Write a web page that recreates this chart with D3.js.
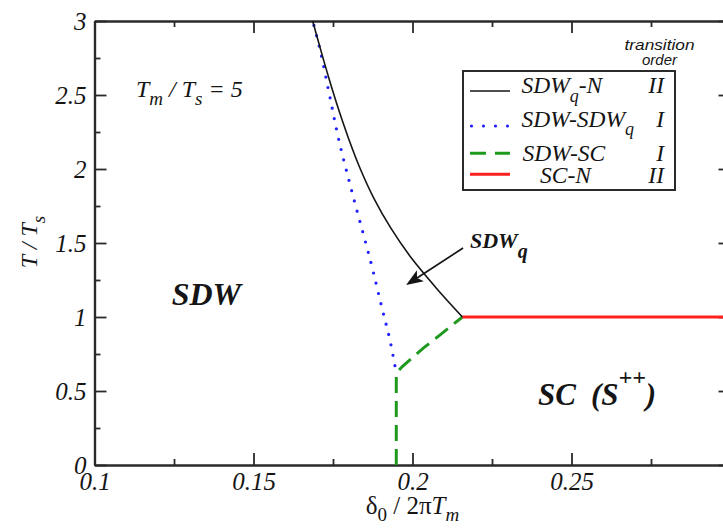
<!DOCTYPE html>
<html>
<head>
<meta charset="utf-8">
<script src="https://cdn.jsdelivr.net/npm/d3@7"></script>
<style>
  html, body { margin: 0; padding: 0; background: #fff; }
  svg { display: block; }
  text { font-family: "Liberation Serif", "Times New Roman", serif; fill: #151515; }
</style>
</head>
<body>
<svg id="chart" width="723" height="528"></svg>
<script>
// Phase diagram T/Ts versus delta0/(2 pi Tm) for Tm/Ts = 5.

// SDW_q - N boundary (second order)
const sdwqN_delta = [0.1686, 0.1712, 0.1739, 0.1768, 0.1800, 0.1836, 0.1879, 0.1932, 0.1996, 0.2073, 0.2157];
const sdwqN_T     = [3.00,   2.80,   2.60,   2.40,   2.20,   2.00,   1.80,   1.60,   1.40,   1.20,   1.00];

// SDW - SDW_q boundary (first order)
const sdwSdwq_delta = [0.1690, 0.1711, 0.1739, 0.1769, 0.1814, 0.1869, 0.1903, 0.1929, 0.1949];
const sdwSdwq_T     = [2.97,   2.79,   2.50,   2.19,   1.81,   1.37,   1.07,   0.845,  0.62];

// SDW - SC boundary (first order)
const sdwSc_delta = [0.1949, 0.1949, 0.1968, 0.2034, 0.2086, 0.2157];
const sdwSc_T     = [0.00,   0.62,   0.665,  0.79,   0.878,  1.00];

// SC - N boundary (second order)
const scN_delta = [0.2157, 0.30];
const scN_T     = [1.00,   1.00];

// Axis ticks
const xMajorTicks = [0.1, 0.15, 0.2, 0.25];
const xTickLabels = ["0.1", "0.15", "0.2", "0.25"];
const xMinorTicks = [0.125, 0.175, 0.225, 0.275];
const yMajorTicks = [0, 0.5, 1, 1.5, 2, 2.5, 3];
const yTickLabels = ["0", "0.5", "1", "1.5", "2", "2.5", "3"];
const yMinorTicks = [0.25, 0.75, 1.25, 1.75, 2.25, 2.75];

// Legend entries
const legendNames  = ["SDW-N", "SDW-SDW", "SDW-SC", "SC-N"];
const legendOrders = ["II", "I", "I", "II"];

const svg = d3.select("#chart");
svg.append("rect").attr("width", 723).attr("height", 528).attr("fill", "#fff");

const x = d3.scaleLinear().domain([0.1, 0.3]).range([94.5, 730.5]);
const y = d3.scaleLinear().domain([0, 3]).range([465, 21]);

const axisColor = "#2a2a2a";
const axisWidth = 2.2;

function styleAxis(g) {
  g.selectAll("path.domain").attr("stroke", axisColor).attr("stroke-width", axisWidth);
  g.selectAll(".tick line").attr("stroke", axisColor).attr("stroke-width", 1.8);
  g.selectAll(".tick text")
    .attr("fill", "#151515")
    .style("font-family", '"Liberation Serif", "Times New Roman", serif')
    .style("font-style", "italic")
    .style("font-size", "25px");
}

// Bottom axis
const xAxisG = svg.append("g").attr("transform", `translate(0,${y(0)})`)
  .call(d3.axisBottom(x).tickValues(xMajorTicks).tickSizeInner(-12).tickSizeOuter(0)
    .tickPadding(7).tickFormat((d, i) => xTickLabels[i]));
styleAxis(xAxisG);
const xMinorG = svg.append("g").attr("transform", `translate(0,${y(0)})`)
  .call(d3.axisBottom(x).tickValues(xMinorTicks.concat([0.3])).tickSizeInner(-6).tickSizeOuter(0).tickFormat(""));
styleAxis(xMinorG);

// Top axis
const xTopG = svg.append("g").attr("transform", `translate(0,${y(3)})`)
  .call(d3.axisTop(x).tickValues(xMajorTicks).tickSizeInner(-12).tickSizeOuter(0).tickFormat(""));
styleAxis(xTopG);
const xTopMinorG = svg.append("g").attr("transform", `translate(0,${y(3)})`)
  .call(d3.axisTop(x).tickValues(xMinorTicks).tickSizeInner(-6).tickSizeOuter(0).tickFormat(""));
styleAxis(xTopMinorG);

// Left axis
const yAxisG = svg.append("g").attr("transform", `translate(${x(0.1)},0)`)
  .call(d3.axisLeft(y).tickValues(yMajorTicks).tickSizeInner(-12).tickSizeOuter(0)
    .tickPadding(8).tickFormat((d, i) => yTickLabels[i]));
styleAxis(yAxisG);
const yMinorG = svg.append("g").attr("transform", `translate(${x(0.1)},0)`)
  .call(d3.axisLeft(y).tickValues(yMinorTicks).tickSizeInner(-6).tickSizeOuter(0).tickFormat(""));
styleAxis(yMinorG);

// Right axis
const yRightG = svg.append("g").attr("transform", `translate(${x(0.3)},0)`)
  .call(d3.axisRight(y).tickValues(yMajorTicks).tickSizeInner(-12).tickSizeOuter(0).tickFormat(""));
styleAxis(yRightG);
const yRightMinorG = svg.append("g").attr("transform", `translate(${x(0.3)},0)`)
  .call(d3.axisRight(y).tickValues(yMinorTicks).tickSizeInner(-6).tickSizeOuter(0).tickFormat(""));
styleAxis(yRightMinorG);

// Phase boundary curves
const pts = (ds, ts) => ds.map((d, i) => [d, ts[i]]);
const smooth = d3.line().x(d => x(d[0])).y(d => y(d[1])).curve(d3.curveCatmullRom.alpha(0.5));
const straight = d3.line().x(d => x(d[0])).y(d => y(d[1]));

const plot = svg.append("g");

plot.append("path").attr("d", smooth(pts(sdwSdwq_delta, sdwSdwq_T)))
  .attr("fill", "none").attr("stroke", "#1f1fff").attr("stroke-width", 3.2)
  .attr("stroke-linecap", "round").attr("stroke-dasharray", "0 10.6");

plot.append("path").attr("d", straight(pts(sdwSc_delta, sdwSc_T)))
  .attr("fill", "none").attr("stroke", "#1f9a1f").attr("stroke-width", 3)
  .attr("stroke-dasharray", "16 8");

plot.append("path").attr("d", straight(pts(scN_delta, scN_T)))
  .attr("fill", "none").attr("stroke", "#ff2020").attr("stroke-width", 3);

plot.append("path").attr("d", smooth(pts(sdwqN_delta, sdwqN_T)))
  .attr("fill", "none").attr("stroke", "#151515").attr("stroke-width", 1.6);

// Arrow pointing into the SDW_q pocket
const arrowFrom = [x(0.2159), y(1.466)];
const arrowTo = [x(0.1980), y(1.216)];
{
  const dx = arrowTo[0] - arrowFrom[0], dy = arrowTo[1] - arrowFrom[1];
  const len = Math.hypot(dx, dy), ux = dx / len, uy = dy / len;
  const px = -uy, py = ux;
  const headLen = 17, headHalf = 6.5, notch = 4;
  const bx = arrowTo[0] - ux * headLen, by = arrowTo[1] - uy * headLen;
  svg.append("line")
    .attr("x1", arrowFrom[0]).attr("y1", arrowFrom[1])
    .attr("x2", arrowTo[0] - ux * (headLen - notch)).attr("y2", arrowTo[1] - uy * (headLen - notch))
    .attr("stroke", "#151515").attr("stroke-width", 1.7);
  svg.append("path")
    .attr("d", `M${arrowTo[0]},${arrowTo[1]} L${bx + px * headHalf},${by + py * headHalf} L${bx + ux * notch},${by + uy * notch} L${bx - px * headHalf},${by - py * headHalf} Z`)
    .attr("fill", "#151515");
}

// Legend
const lg = svg.append("g");
lg.append("rect").attr("x", 463).attr("y", 71).attr("width", 212).attr("height", 119)
  .attr("fill", "#fff").attr("stroke", "#2a2a2a").attr("stroke-width", 2);

const rowLineY = [91, 126, 153.3, 174.3];
const rowTextY = [93, 127, 161, 183];
const rowTextX = [521.5, 521.5, 522.5, 540];
const rowStyles = [
  { stroke: "#151515", width: 1.6, dash: null, cap: "butt" },
  { stroke: "#1f1fff", width: 3.2, dash: "0 12", cap: "round" },
  { stroke: "#1f9a1f", width: 3, dash: "16 9", cap: "butt" },
  { stroke: "#ff2020", width: 3, dash: null, cap: "butt" }
];

legendNames.forEach((name, i) => {
  const st = rowStyles[i];
  const ln = lg.append("line").attr("x1", i === 1 ? 471.5 : 470).attr("x2", 510)
    .attr("y1", rowLineY[i]).attr("y2", rowLineY[i])
    .attr("stroke", st.stroke).attr("stroke-width", st.width).attr("stroke-linecap", st.cap);
  if (st.dash) ln.attr("stroke-dasharray", st.dash);

  const t = lg.append("text").attr("x", rowTextX[i]).attr("y", rowTextY[i])
    .style("font-style", "italic").style("font-size", "23.5px");
  if (i === 0) {
    t.append("tspan").text("SDW");
    t.append("tspan").attr("dy", 9).style("font-size", "18px").text("q");
    t.append("tspan").attr("dy", -9).text("-N");
  } else if (i === 1) {
    t.append("tspan").text(name);
    t.append("tspan").attr("dy", 8).style("font-size", "18px").text("q");
  } else {
    t.text(name);
  }

  lg.append("text").attr("x", 664).attr("y", rowTextY[i]).attr("text-anchor", "end")
    .style("font-style", "italic").style("font-size", "23.5px").text(legendOrders[i]);
});

// Legend column header
const hdr = lg.append("text").attr("text-anchor", "middle")
  .style("font-family", '"Liberation Sans", Arial, sans-serif')
  .style("font-style", "italic").style("font-size", "15px");
hdr.append("tspan").attr("x", 659.5).attr("y", 50).attr("textLength", 70)
  .attr("lengthAdjust", "spacingAndGlyphs").text("transition");
hdr.append("tspan").attr("x", 659.5).attr("y", 65).text("order");

// Annotations
const ratio = svg.append("text").attr("x", x(0.11305)).attr("y", y(2.488))
  .style("font-style", "italic").style("font-size", "24px");
ratio.append("tspan").text("T");
ratio.append("tspan").attr("dy", 8).style("font-size", "19px").text("m");
ratio.append("tspan").attr("dy", -8).text(" / T");
ratio.append("tspan").attr("dy", 8).style("font-size", "19px").text("s");
ratio.append("tspan").attr("dy", -8).text(" = 5");

svg.append("text").attr("x", x(0.12428)).attr("y", y(1.081))
  .style("font-style", "italic").style("font-weight", "bold").style("font-size", "32px")
  .text("SDW");

const sc = svg.append("text").attr("x", x(0.23947)).attr("y", y(0.405))
  .style("font-style", "italic").style("font-weight", "bold").style("font-size", "31px");
sc.append("tspan").text("SC");
sc.append("tspan").attr("dx", 15).text("(S");
sc.append("tspan").attr("dy", -20).style("font-size", "24px").text("++");
sc.append("tspan").attr("dy", 20).text(")");

const sq = svg.append("text").attr("x", x(0.21808)).attr("y", y(1.466))
  .style("font-style", "italic").style("font-weight", "bold").style("font-size", "22px");
sq.append("tspan").text("SDW");
sq.append("tspan").attr("dy", 10).style("font-size", "20px").text("q");

// Axis titles
const yt = svg.append("text").attr("transform", "translate(37,242) rotate(-90)")
  .attr("text-anchor", "middle").style("font-size", "24px");
yt.append("tspan").style("font-style", "italic").text("T / T");
yt.append("tspan").attr("dy", 8).style("font-style", "italic").style("font-size", "19px").text("s");

const xt = svg.append("text").attr("x", x(0.2)).attr("y", 514)
  .attr("text-anchor", "middle").style("font-size", "25px");
xt.append("tspan").text("δ");
xt.append("tspan").attr("dy", 7).style("font-size", "19px").text("0");
xt.append("tspan").attr("dy", -7).text(" / 2π");
xt.append("tspan").style("font-style", "italic").text("T");
xt.append("tspan").attr("dy", 7).style("font-style", "italic").style("font-size", "19px").text("m");
</script>
</body>
</html>
